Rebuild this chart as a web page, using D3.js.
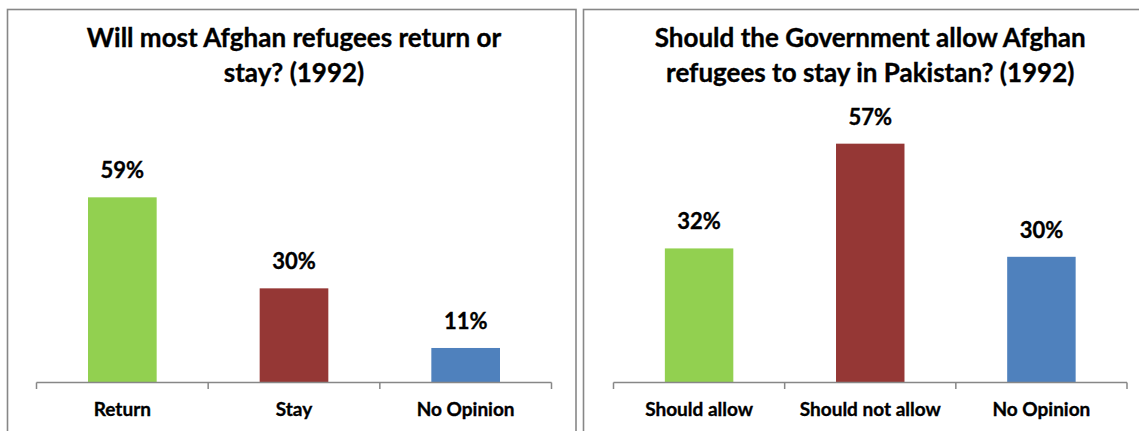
<!DOCTYPE html>
<html>
<head>
<meta charset="utf-8">
<script src="https://cdn.jsdelivr.net/npm/d3@7"></script>
<style>
  html, body { margin: 0; padding: 0; background: #ffffff; }
  svg { display: block; }
  text { font-family: Lato, "Open Sans", sans-serif; font-weight: bold; fill: #000; stroke: #000; stroke-width: 0.35px; }
</style>
</head>
<body>
<svg id="chart" width="1139" height="431"></svg>
<script>
// Survey results, 1992
const returnTitle = ["Will most Afghan refugees return or", "stay? (1992)"];
const returnCategories = ["Return", "Stay", "No Opinion"];
const returnValues = [59, 30, 11];

const allowTitle = ["Should the Government allow Afghan", "refugees to stay in Pakistan? (1992)"];
const allowCategories = ["Should allow", "Should not allow", "No Opinion"];
const allowValues = [32, 57, 30];

const barColors = ["#92D050", "#953735", "#4F81BD"];

const svg = d3.select("#chart");

function drawPanel(cfg) {
  const g = svg.append("g");

  // panel frame (bottom edge runs past the window)
  g.append("rect")
    .attr("x", cfg.left).attr("y", 9.5)
    .attr("width", cfg.width).attr("height", 460)
    .attr("fill", "#fff")
    .attr("stroke", "#878787")
    .attr("stroke-width", 1.6);

  const x = d3.scaleBand()
    .domain(cfg.categories)
    .range([cfg.axisStart, cfg.axisEnd])
    .paddingInner(0.6)
    .paddingOuter(0.3);

  const y = d3.scaleLinear()
    .domain([0, cfg.yMax])
    .range([cfg.baseY, cfg.baseY - cfg.plotHeight]);

  const cx = (cfg.axisStart + cfg.axisEnd) / 2;

  // title
  const title = g.append("text")
    .attr("text-anchor", "middle")
    .style("font-size", "26px");
  cfg.title.forEach((line, i) => {
    title.append("tspan")
      .attr("x", cx)
      .attr("y", 47 + i * 34.5)
      .text(line);
  });

  const data = cfg.categories.map((c, i) => ({ cat: c, value: cfg.values[i], color: barColors[i] }));

  // bars
  g.selectAll("rect.bar")
    .data(data)
    .join("rect")
    .attr("class", "bar")
    .attr("x", d => x(d.cat))
    .attr("width", x.bandwidth())
    .attr("y", d => y(d.value))
    .attr("height", d => cfg.baseY - y(d.value))
    .attr("fill", d => d.color);

  // value labels
  g.selectAll("text.val")
    .data(data)
    .join("text")
    .attr("class", "val")
    .attr("text-anchor", "middle")
    .attr("x", d => x(d.cat) + x.bandwidth() / 2)
    .attr("y", d => y(d.value) - 19)
    .style("font-size", "22px")
    .text(d => d.value + "%");

  // category axis with ticks between categories
  const step = x.step();
  const edges = d3.range(cfg.categories.length + 1).map(i => cfg.axisStart + i * step);
  g.append("line")
    .attr("x1", cfg.axisStart).attr("x2", cfg.axisEnd)
    .attr("y1", cfg.baseY).attr("y2", cfg.baseY)
    .attr("stroke", "#878787").attr("stroke-width", 1.5);
  g.selectAll("line.tick")
    .data(edges)
    .join("line")
    .attr("class", "tick")
    .attr("x1", d => d).attr("x2", d => d)
    .attr("y1", cfg.baseY).attr("y2", cfg.baseY + 6.5)
    .attr("stroke", "#878787").attr("stroke-width", 1.5);

  g.selectAll("text.cat")
    .data(data)
    .join("text")
    .attr("class", "cat")
    .attr("text-anchor", "middle")
    .attr("x", d => x(d.cat) + x.bandwidth() / 2)
    .attr("y", cfg.baseY + 33.5)
    .style("font-size", "19px")
    .text(d => d.cat);
}

drawPanel({
  left: 7.5, width: 568.5,
  axisStart: 36.5, axisEnd: 551.5,
  baseY: 382.5, yMax: 70, plotHeight: 219.7,
  title: returnTitle, categories: returnCategories, values: returnValues
});

drawPanel({
  left: 583.5, width: 568.5,
  axisStart: 613.5, axisEnd: 1127,
  baseY: 382.5, yMax: 60, plotHeight: 251.4,
  title: allowTitle, categories: allowCategories, values: allowValues
});
</script>
</body>
</html>
